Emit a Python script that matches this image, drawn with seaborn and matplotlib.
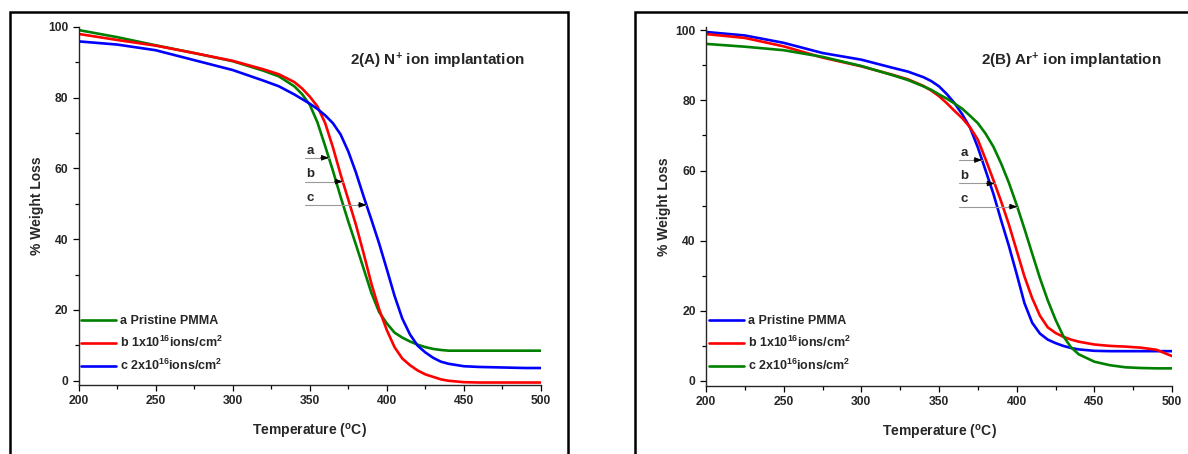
import numpy as np
import pandas as pd
import matplotlib
matplotlib.use("Agg")
import matplotlib.pyplot as plt
from matplotlib.patches import Rectangle
import seaborn as sns

# ---- data -------------------------------------------------------------
temperature = [200, 225, 250, 275, 300, 320, 330, 340, 345, 350, 355, 360,
               365, 370, 375, 380, 385, 390, 395, 400, 405, 410, 415, 420,
               425, 430, 435, 440, 450, 460, 470, 480, 490, 500]

# 2(A) N+ implantation
n_pristine = [99.1, 97.1, 94.8, 92.6, 90.3, 87.6, 86.0, 83.2, 81.0, 78.0,
              73.0, 66.3, 59.4, 52.0, 45.0, 38.4, 31.6, 24.8, 19.4, 16.2,
              13.6, 12.2, 11.1, 10.2, 9.5, 9.0, 8.7, 8.5, 8.5, 8.5, 8.5,
              8.5, 8.5, 8.5]
n_dose1 = [98.0, 96.3, 94.7, 92.6, 90.4, 88.0, 86.6, 84.4, 82.6, 80.3,
           77.5, 72.8, 66.0, 58.3, 51.2, 44.0, 35.9, 27.4, 20.2, 14.3,
           9.5, 6.3, 4.4, 2.9, 1.8, 1.1, 0.4, 0.0, -0.4, -0.5, -0.5,
           -0.5, -0.5, -0.5]
n_dose2 = [95.9, 95.0, 93.4, 90.6, 87.8, 84.8, 83.2, 80.9, 79.6, 78.3,
           76.8, 75.0, 72.8, 69.6, 64.8, 58.8, 52.0, 45.5, 38.8, 31.5,
           24.0, 17.6, 13.1, 9.9, 8.0, 6.5, 5.4, 4.8, 4.1, 3.9, 3.8,
           3.7, 3.6, 3.6]

# 2(B) Ar+ implantation
ar_pristine = [99.5, 98.5, 96.4, 93.5, 91.6, 89.3, 88.2, 86.6, 85.5, 84.0,
               81.8, 79.2, 76.0, 72.2, 66.6, 60.0, 53.4, 45.8, 38.5, 30.5,
               22.2, 16.6, 13.5, 11.8, 10.8, 10.0, 9.4, 9.0, 8.6, 8.5, 8.5,
               8.5, 8.5, 8.5]
ar_dose1 = [98.9, 97.8, 95.4, 92.2, 89.7, 87.3, 86.0, 84.1, 82.8, 81.2,
            79.2, 77.0, 74.9, 72.3, 68.8, 63.2, 57.3, 51.2, 44.6, 37.2,
            29.8, 23.6, 18.6, 15.3, 13.7, 12.6, 11.8, 11.2, 10.4, 10.0,
            9.8, 9.5, 8.9, 7.1]
ar_dose2 = [96.1, 95.3, 94.3, 92.4, 89.8, 87.2, 85.8, 84.0, 83.0, 81.7,
            80.5, 79.1, 77.6, 75.6, 73.5, 70.5, 66.8, 62.0, 56.5, 50.2,
            43.4, 36.3, 29.3, 23.0, 17.5, 12.8, 9.6, 7.6, 5.5, 4.5, 3.9,
            3.7, 3.6, 3.6]

series_labels = ["a Pristine PMMA",
                 "b 1x10$^{16}$ions/cm$^{2}$",
                 "c 2x10$^{16}$ions/cm$^{2}$"]
panel_titles = ["2(A) N$^{+}$ ion implantation",
                "2(B) Ar$^{+}$ ion implantation"]
arrow_letters = ["a", "b", "c"]
arrow_levels = [63.0, 56.3, 49.7]
arrow_starts = [347.0, 362.9]

GREEN, RED, BLUE = "#008000", "#ff0000", "#0000ff"

# ---- style ------------------------------------------------------------
sns.set_style("ticks")
plt.rcParams["font.family"] = ["Liberation Sans", "DejaVu Sans"]
plt.rcParams["font.weight"] = "bold"
plt.rcParams["mathtext.fontset"] = "custom"
plt.rcParams["mathtext.rm"] = "Liberation Sans:bold"
plt.rcParams["mathtext.it"] = "Liberation Sans:bold"
plt.rcParams["mathtext.bf"] = "Liberation Sans:bold"
plt.rcParams["mathtext.default"] = "rm"
plt.rcParams["axes.linewidth"] = 1.0

fig = plt.figure(figsize=(11.88, 4.54), dpi=100)
fig.patch.set_facecolor("white")

# panel frames
fig.add_artist(Rectangle((9.5 / 1188, -0.05), (568 - 9.5) / 1188, 1.05 - 12 / 454,
                         transform=fig.transFigure, fill=False,
                         edgecolor="black", linewidth=1.8))
fig.add_artist(Rectangle((635 / 1188, -0.05), 0.5, 1.05 - 12 / 454,
                         transform=fig.transFigure, fill=False,
                         edgecolor="black", linewidth=1.8))

ax_left = fig.add_axes([78.5 / 1188, 1 - 385 / 454, 462.5 / 1188, 358.5 / 454])
ax_right = fig.add_axes([706 / 1188, 1 - 386 / 454, 466 / 1188, 359.3 / 454])

panels = [
    (ax_left, [n_pristine, n_dose1, n_dose2], [GREEN, RED, BLUE],
     (-1.2, 100.1), (0.0054, 0.1135), arrow_starts[0], 0.775),
    (ax_right, [ar_pristine, ar_dose1, ar_dose2], [BLUE, RED, GREEN],
     (-1.43, 101.0), (0.0064, 0.116), arrow_starts[1], 0.784),
]

for i, (ax, curves, colors, ylim, leg_anchor, x_start, title_x) in enumerate(panels):
    frames = []
    for lab, vals in zip(series_labels, curves):
        frames.append(pd.DataFrame({"Temperature": temperature,
                                    "Weight": vals, "Sample": lab}))
    df = pd.concat(frames, ignore_index=True)
    sns.lineplot(data=df, x="Temperature", y="Weight", hue="Sample",
                 hue_order=series_labels, palette=dict(zip(series_labels, colors)),
                 linewidth=1.9, ax=ax, legend=False, sort=False)

    ax.set_xlim(200, 500)
    ax.set_ylim(*ylim)
    ax.set_xticks(np.arange(200, 501, 50))
    ax.set_xticks(np.arange(225, 500, 50), minor=True)
    ax.set_yticks(np.arange(0, 101, 20))
    ax.set_yticks(np.arange(10, 100, 20), minor=True)
    ax.tick_params(which="major", direction="out", length=4.2, width=0.9,
                   labelsize=8.7, pad=3.2, color="black")
    ax.tick_params(which="minor", direction="out", length=2.8, width=0.9,
                   color="black")
    for lbl in ax.get_xticklabels() + ax.get_yticklabels():
        lbl.set_fontweight("bold")
    sns.despine(ax=ax)
    ax.set_facecolor("none")

    ax.set_xlabel("Temperature ($^{o}$C)", fontsize=10, fontweight="bold")
    ax.set_ylabel("% Weight Loss", fontsize=10, fontweight="bold")
    ax.xaxis.set_label_coords(0.5, -0.102)
    ax.yaxis.set_label_coords(-0.0746 if i == 0 else -0.076, 0.5)

    ax.text(title_x, 0.904, panel_titles[i], transform=ax.transAxes,
            ha="center", va="center", fontsize=11, fontweight="bold")

    ax.legend(handles=ax.get_lines()[:3], labels=series_labels,
              loc="center left", bbox_to_anchor=leg_anchor, frameon=False,
              borderpad=0, borderaxespad=0, handlelength=2.8,
              handletextpad=0.32, labelspacing=0.62,
              prop={"weight": "bold", "size": 9})

    # arrows marking each curve at its own level
    for letter, level, vals in zip(arrow_letters, arrow_levels, curves):
        tip = float(np.interp(level, vals[::-1], temperature[::-1]))
        ax.plot([x_start, tip], [level, level], color="#9a9a9a", lw=0.8)
        ax.annotate("", xy=(tip, level), xytext=(-6, 0),
                    textcoords="offset points",
                    arrowprops=dict(arrowstyle="-|>,head_length=0.45,head_width=0.17",
                                    color="black", lw=0.6, shrinkA=0, shrinkB=0,
                                    mutation_scale=10))
        ax.text(x_start + 0.8, level + 1.2, letter, ha="left", va="baseline",
                fontsize=9.5, fontweight="bold")

fig.savefig("out.png", dpi=100, facecolor="white")
